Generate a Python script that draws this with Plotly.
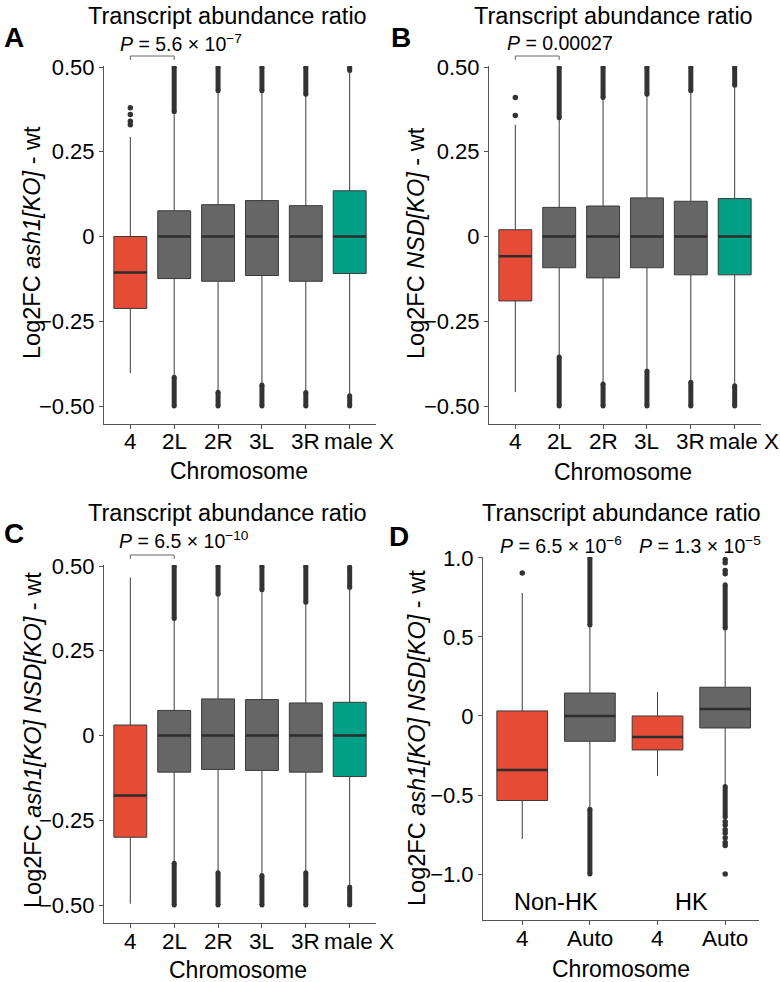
import plotly.graph_objects as go

# ---------------- data ----------------
chrom_cats = ['4', '2L', '2R', '3L', '3R', 'male X']
chrom_groups = ['chr4', 'auto', 'auto', 'auto', 'auto', 'X']

# Panel A : ash1[KO] - wt
A_q1 = [-0.212, -0.124, -0.132, -0.115, -0.132, -0.109]
A_med = [-0.106, 0.0, 0.0, 0.0, 0.0, 0.0]
A_q3 = [0.0, 0.076, 0.094, 0.106, 0.091, 0.135]
A_lo = [-0.403, -0.41, -0.455, -0.435, -0.455, -0.465]
A_hi = [0.294, 0.36, 0.425, 0.425, 0.415, 0.485]
A_out_hi_from = [None, 0.368, 0.43, 0.43, 0.42, 0.49]
A_out_hi_to = [None, 0.5, 0.5, 0.5, 0.5, 0.5]
A_out_lo_from = [None, -0.415, -0.459, -0.438, -0.46, -0.47]
A_out_lo_to = [None, -0.5, -0.5, -0.5, -0.5, -0.5]
A_out_pts = [[0.33, 0.34, 0.36, 0.38], [], [], [], [], []]
A_p = '<i>P</i> = 5.6 × 10<sup>−7</sup>'

# Panel B : NSD[KO] - wt
B_q1 = [-0.19, -0.092, -0.122, -0.092, -0.113, -0.113]
B_med = [-0.058, 0.0, 0.0, 0.0, 0.0, 0.0]
B_q3 = [0.02, 0.086, 0.09, 0.114, 0.104, 0.112]
B_lo = [-0.459, -0.35, -0.43, -0.39, -0.425, -0.435]
B_hi = [0.33, 0.345, 0.405, 0.415, 0.425, 0.44]
B_out_hi_from = [None, 0.35, 0.41, 0.42, 0.43, 0.446]
B_out_hi_to = [None, 0.5, 0.5, 0.5, 0.5, 0.5]
B_out_lo_from = [None, -0.355, -0.435, -0.397, -0.43, -0.44]
B_out_lo_to = [None, -0.5, -0.5, -0.5, -0.5, -0.5]
B_out_pts = [[0.357, 0.41], [], [], [], [], []]
B_p = '<i>P</i> = 0.00027'

# Panel C : ash1[KO] NSD[KO] - wt
C_q1 = [-0.3, -0.108, -0.1, -0.103, -0.108, -0.121]
C_med = [-0.177, 0.0, 0.0, 0.0, 0.0, 0.0]
C_q3 = [0.031, 0.074, 0.108, 0.106, 0.096, 0.098]
C_lo = [-0.496, -0.37, -0.4, -0.405, -0.4, -0.44]
C_hi = [0.466, 0.34, 0.41, 0.425, 0.388, 0.43]
C_out_hi_from = [None, 0.345, 0.417, 0.43, 0.393, 0.437]
C_out_hi_to = [None, 0.5, 0.5, 0.5, 0.5, 0.497]
C_out_lo_from = [None, -0.377, -0.405, -0.413, -0.405, -0.447]
C_out_lo_to = [None, -0.5, -0.5, -0.5, -0.5, -0.5]
C_out_pts = [[], [], [], [], [], []]
C_p = '<i>P</i> = 6.5 × 10<sup>−10</sup>'

# Panel D : ash1[KO] NSD[KO] - wt, Non-HK vs HK
D_cats = ['4', 'Auto', '4', 'Auto']
D_groups = ['chr4', 'auto', 'chr4', 'auto']
D_sets = ['Non-HK', 'Non-HK', 'HK', 'HK']
D_q1 = [-0.535, -0.16, -0.215, -0.076]
D_med = [-0.342, 0.0, -0.133, 0.044]
D_q3 = [0.032, 0.145, 0.0, 0.182]
D_lo = [-0.778, -0.58, -0.38, -0.44]
D_hi = [0.778, 0.57, 0.152, 0.55]
D_out_hi_from = [None, 0.576, None, 0.556]
D_out_hi_to = [None, 1.0, None, 0.83]
D_out_lo_from = [None, -0.59, None, -0.447]
D_out_lo_to = [None, -1.0, None, -0.64]
D_out_pts = [[0.905], [], [], [0.90, 0.92, 0.97, 0.99,
                                -0.67, -0.69, -0.72, -0.74, -0.77, -0.80, -0.82, -1.0]]
D_p = ['<i>P</i> = 6.5 × 10<sup>−6</sup>', '<i>P</i> = 1.3 × 10<sup>−5</sup>']

ytick_small = [-0.5, -0.25, 0, 0.25, 0.5]
ytick_small_txt = ['−0.50', '−0.25', '0', '0.25', '0.50']
ytick_D = [-1.0, -0.5, 0, 0.5, 1.0]
ytick_D_txt = ['−1.0', '−0.5', '0', '0.5', '1.0']

# ---------------- style ----------------
W, H = 780, 982
FONT = 'Liberation Sans, Arial, Helvetica, sans-serif'
FS = 23.5      # titles
TS = 22        # tick labels
COL = {'chr4': '#E64B35', 'auto': '#666666', 'X': '#00A087'}
EDGE = '#3a3a3a'
OUT = '#333333'
BW = 0.75


def px(x):
    return x / W


def py(y):
    return 1 - y / H


fig = go.Figure()


def add_panel(k, groups, q1, med, q3, lo, hi, ohf, oht, olf, olt, pts):
    xa = 'x' if k == 1 else f'x{k}'
    ya = 'y' if k == 1 else f'y{k}'
    for i in range(len(q1)):
        fig.add_trace(go.Box(
            x=[i], q1=[q1[i]], median=[med[i]], q3=[q3[i]],
            lowerfence=[lo[i]], upperfence=[hi[i]],
            fillcolor=COL[groups[i]], line=dict(color=EDGE, width=1),
            whiskerwidth=0, width=BW, boxpoints=False,
            xaxis=xa, yaxis=ya, showlegend=False, hoverinfo='skip'))
        fig.add_trace(go.Scatter(
            x=[i - BW / 2, i + BW / 2], y=[med[i], med[i]], mode='lines',
            line=dict(color='#2d2d2d', width=2.6), xaxis=xa, yaxis=ya,
            showlegend=False, hoverinfo='skip'))
        for a, b in ((ohf[i], oht[i]), (olf[i], olt[i])):
            if a is None:
                continue
            fig.add_trace(go.Scatter(
                x=[i, i], y=[a, b], mode='lines+markers',
                line=dict(color=OUT, width=5), marker=dict(color=OUT, size=5),
                xaxis=xa, yaxis=ya, showlegend=False, hoverinfo='skip'))
        if pts[i]:
            fig.add_trace(go.Scatter(
                x=[i] * len(pts[i]), y=pts[i], mode='markers',
                marker=dict(color=OUT, size=5.5), xaxis=xa, yaxis=ya,
                showlegend=False, hoverinfo='skip'))


add_panel(1, chrom_groups, A_q1, A_med, A_q3, A_lo, A_hi,
          A_out_hi_from, A_out_hi_to, A_out_lo_from, A_out_lo_to, A_out_pts)
add_panel(2, chrom_groups, B_q1, B_med, B_q3, B_lo, B_hi,
          B_out_hi_from, B_out_hi_to, B_out_lo_from, B_out_lo_to, B_out_pts)
add_panel(3, chrom_groups, C_q1, C_med, C_q3, C_lo, C_hi,
          C_out_hi_from, C_out_hi_to, C_out_lo_from, C_out_lo_to, C_out_pts)
add_panel(4, D_groups, D_q1, D_med, D_q3, D_lo, D_hi,
          D_out_hi_from, D_out_hi_to, D_out_lo_from, D_out_lo_to, D_out_pts)

# panel pixel boxes: (left, right, top, bottom)
boxes = {
    1: (104, 376, 66, 424),
    2: (489, 761, 66, 424),
    3: (104, 376, 565, 923),
    4: (483, 759, 557, 920),
}

axis_common = dict(showline=True, linecolor='#555555', linewidth=1,
                   ticks='outside', ticklen=4, tickcolor='#555555',
                   showgrid=False, zeroline=False, tickangle=0,
                   automargin=False,
                   tickfont=dict(size=TS, color='#000000', family=FONT))

layout = dict(
    template='none',
    width=W, height=H,
    margin=dict(l=0, r=0, t=0, b=0, pad=0, autoexpand=False),
    paper_bgcolor='white', plot_bgcolor='white', boxmode='overlay',
    font=dict(family=FONT, color='#000000'), showlegend=False,
)

ann = []
for k, (l, r, t, b) in boxes.items():
    xs = 'xaxis' if k == 1 else f'xaxis{k}'
    ys = 'yaxis' if k == 1 else f'yaxis{k}'
    xref = 'x' if k == 1 else f'x{k}'
    yref = 'y' if k == 1 else f'y{k}'
    if k < 4:
        cats = chrom_cats
        xr = [-0.6, len(cats) - 0.4]
        yr = [-0.553, 0.503]
        ytv, ytt = ytick_small, ytick_small_txt
    else:
        cats = D_cats
        xr = [-0.58, len(cats) - 0.5]
        yr = [-1.291, 1.006]
        ytv, ytt = ytick_D, ytick_D_txt
    layout[xs] = dict(axis_common, domain=[px(l), px(r)], range=xr,
                      tickvals=list(range(len(cats))), showticklabels=False,
                      anchor=yref)
    layout[ys] = dict(axis_common, domain=[py(b), py(t)], range=yr,
                      tickvals=ytv, ticktext=ytt, anchor=xref)
    # x tick labels (the long "male X" label sits slightly right, as in ggplot)
    for i, c in enumerate(cats):
        ann.append(dict(x=i, y=py(b + 18), xref=xref, yref='paper', text=c,
                        showarrow=False, xanchor='center', yanchor='middle',
                        xshift=9 if c == 'male X' else 0,
                        font=dict(size=TS + 0.5, family=FONT, color='#000000')))

fig.update_layout(**layout)


def text(x, y, s, size=FS, xanchor='center', angle=0, bold=False):
    ann.append(dict(x=px(x), y=py(y), xref='paper', yref='paper', text=s,
                    showarrow=False, xanchor=xanchor, yanchor='middle',
                    textangle=angle,
                    font=dict(size=size, family=FONT, color='#000000',
                              weight='bold' if bold else 'normal')))


# titles
for x, y in ((227, 16), (613, 16), (227, 513), (621, 513)):
    text(x, y, 'Transcript abundance ratio')
# panel letters
for x, y, s in ((14, 38, 'A'), (401, 38, 'B'), (14, 533, 'C'), (399, 536, 'D')):
    text(x, y, s, size=28, bold=True)
# y titles
text(32, 243, 'Log2FC <i>ash1[KO]</i> - wt', angle=-90)
text(416, 243, 'Log2FC <i>NSD[KO]</i> - wt', angle=-90)
text(33, 740, 'Log2FC <i>ash1[KO] NSD[KO]</i> - wt', angle=-90)
text(417, 738, 'Log2FC <i>ash1[KO] NSD[KO]</i> - wt', angle=-90)
# x titles
for x, y in ((239, 471), (623, 472), (238, 970), (621, 969)):
    text(x, y, 'Chromosome', size=23)
# p values
PS = 19.5
text(118, 43, A_p, size=PS, xanchor='left')
text(505, 43, B_p, size=PS, xanchor='left')
text(117, 540, C_p, size=PS, xanchor='left')
text(498, 545, D_p[0], size=PS, xanchor='left')
text(637, 545, D_p[1], size=PS, xanchor='left')

# Non-HK / HK labels in panel D (data coords)
for sname in ('Non-HK', 'HK'):
    idx = [i for i, s in enumerate(D_sets) if s == sname]
    ann.append(dict(x=sum(idx) / len(idx), y=-1.18, xref='x4', yref='y4',
                    text=sname, showarrow=False, xanchor='center',
                    yanchor='middle',
                    font=dict(size=FS, family=FONT, color='#000000')))

fig.update_layout(annotations=ann)

# comparison brackets (4 vs 2L) for panels A-C
shapes = []
for k, ytop in ((1, 56), (2, 56), (3, 555)):
    xr_ = 'x' if k == 1 else f'x{k}'
    i0, i1 = chrom_cats.index('4'), chrom_cats.index('2L')
    yb, yt = py(ytop + 4), py(ytop)
    for (x0, y0, x1, y1) in ((i0, yt, i1, yt), (i0, yb, i0, yt), (i1, yb, i1, yt)):
        shapes.append(dict(type='line', xref=xr_, yref='paper', x0=x0, y0=y0,
                           x1=x1, y1=y1, line=dict(color='#666666', width=1)))
fig.update_layout(shapes=shapes)

fig.write_html('out.html', config={'displayModeBar': False},
               post_script="document.body.style.margin='0';")
